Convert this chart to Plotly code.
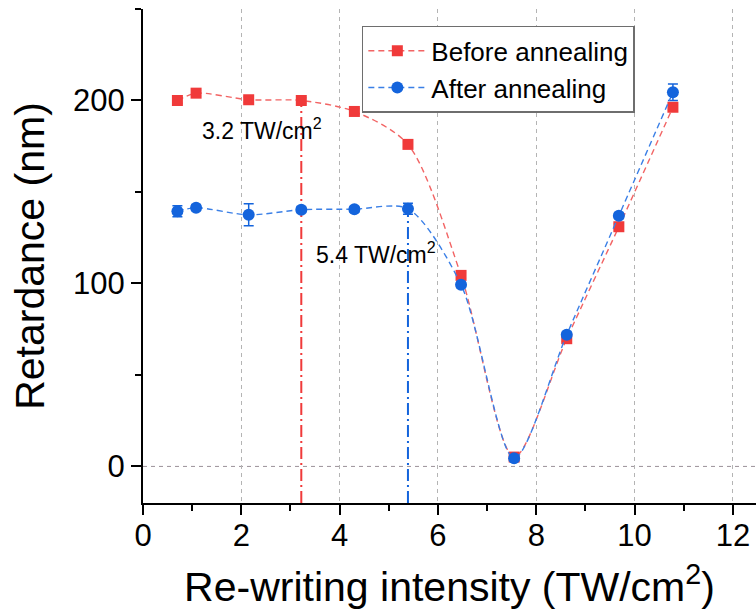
import plotly.graph_objects as go

# ---- data ----
intensity = [0.70, 1.08, 2.15, 3.22, 4.30, 5.39, 6.47, 7.55, 8.62, 9.68, 10.78]
before = [200.0, 204.0, 200.4, 200.0, 194.0, 176.0, 104.4, 5.1, 69.8, 131.0, 196.3]
before_err = [1.5, 1.5, 1.5, 1.5, 1.5, 1.5, 1.5, 1.5, 1.5, 1.5, 1.5]
after = [139.5, 141.4, 137.5, 140.3, 140.6, 140.8, 99.3, 4.5, 72.0, 137.0, 204.5]
after_err = [3.0, 1.5, 6.0, 1.5, 1.5, 3.0, 1.5, 1.5, 1.5, 1.5, 4.5]
threshold_before_idx = 3   # 3.2 TW/cm2
threshold_after_idx = 5    # 5.4 TW/cm2
threshold_labels = ["3.2 TW/cm<sup>2</sup>", "5.4 TW/cm<sup>2</sup>"]
label_pos = [(2.42, 184.5), (4.74, 116.5)]
x_range = [0, 12.47]
y_range = [-20, 250]
x_ticks = [0, 2, 4, 6, 8, 10, 12]
y_ticks = [0, 100, 200]

RED = "#F03A3A"
RED_LINE = "#F26464"
BLUE = "#1464DC"
BLUE_LINE = "#3A7FE6"
FONT = "Liberation Sans, Arial, sans-serif"

fig = go.Figure()

fig.add_trace(go.Scatter(
    x=intensity, y=before, name="Before annealing",
    mode="lines+markers",
    line=dict(color=RED_LINE, width=1.4, dash="6px,4px", shape="spline", smoothing=0.8),
    marker=dict(symbol="square", size=11, color=RED),
    error_y=dict(type="data", array=before_err, color=RED, thickness=1.5, width=5),
))
fig.add_trace(go.Scatter(
    x=intensity, y=after, name="After annealing",
    mode="lines+markers",
    line=dict(color=BLUE_LINE, width=1.4, dash="6px,4px", shape="spline", smoothing=0.8),
    marker=dict(symbol="circle", size=12, color=BLUE),
    error_y=dict(type="data", array=after_err, color=BLUE, thickness=1.5, width=5),
))

shapes = []
# dashed zero line
shapes.append(dict(type="line", xref="paper", x0=0, x1=1, yref="y", y0=0, y1=0,
                   line=dict(color="#9a9098", width=1, dash="4px,4px"), layer="below"))
# vertical dash-dot threshold lines
shapes.append(dict(type="line", xref="x", x0=intensity[threshold_before_idx], x1=intensity[threshold_before_idx],
                   yref="y", y0=y_range[0], y1=before[threshold_before_idx],
                   line=dict(color=RED, width=2, dash="12px,4px,2px,4px"), layer="below"))
shapes.append(dict(type="line", xref="x", x0=intensity[threshold_after_idx], x1=intensity[threshold_after_idx],
                   yref="y", y0=y_range[0], y1=after[threshold_after_idx],
                   line=dict(color=BLUE, width=2, dash="12px,4px,2px,4px"), layer="below"))

annotations = []
for txt, (ax, ay) in zip(threshold_labels, label_pos):
    annotations.append(dict(x=ax, y=ay, xref="x", yref="y", text=txt, showarrow=False,
                            font=dict(family=FONT, size=23, color="black")))

axis_common = dict(showline=True, linecolor="black", linewidth=2,
                   tickfont=dict(family=FONT, size=31, color="black"),
                   ticks="outside", ticklen=10, tickwidth=2, tickcolor="black")

fig.update_layout(
    width=756, height=611,
    margin=dict(l=143, r=0, t=9, b=108),
    paper_bgcolor="white", plot_bgcolor="white",
    font=dict(family=FONT, color="black"),
    showlegend=True,
    legend=dict(x=0.357, y=0.966, xanchor="left", yanchor="top",
                bgcolor="white", bordercolor="#6e6e6e", borderwidth=1.5,
                font=dict(family=FONT, size=26, color="black"),
                itemwidth=58, tracegroupgap=0),
    xaxis=dict(range=x_range, tickvals=x_ticks, **axis_common,
               ticklabelposition="outside", ticklabelstandoff=-6,
               showgrid=True, gridcolor="#b4b4b4", gridwidth=1, griddash="4px,4px",
               zeroline=False,
               minor=dict(ticks="outside", ticklen=6, tickwidth=2, tickcolor="black", dtick=1, tick0=0, showgrid=False),
               title=dict(text="Re-writing intensity (TW/cm<sup>2</sup>)",
                          font=dict(family=FONT, size=41, color="black"), standoff=20)),
    yaxis=dict(range=y_range, tickvals=y_ticks, **axis_common,
               showgrid=False, zeroline=False,
               minor=dict(ticks="outside", ticklen=6, tickwidth=2, tickcolor="black", dtick=50, tick0=0),
               title=dict(text="Retardance (nm)",
                          font=dict(family=FONT, size=41, color="black"), standoff=16)),
    xaxis2=dict(range=x_range, overlaying="x", side="top", anchor="y", showline=True, linecolor="black",
                linewidth=2, ticks="inside", ticklen=9, tickwidth=2, tickcolor="black",
                tickvals=x_ticks, showticklabels=False, showgrid=False, zeroline=False,
                minor=dict(ticks="inside", ticklen=5, tickwidth=2, tickcolor="black", dtick=1, tick0=0)),
    yaxis2=dict(range=y_range, overlaying="y", side="right", anchor="x", showline=True, linecolor="black",
                linewidth=2, ticks="inside", ticklen=9, tickwidth=2, tickcolor="black",
                tickvals=y_ticks, showticklabels=False, showgrid=False, zeroline=False,
                minor=dict(ticks="inside", ticklen=5, tickwidth=2, tickcolor="black", dtick=50, tick0=0)),
    shapes=shapes, annotations=annotations,
)

fig.write_html("out.html")
